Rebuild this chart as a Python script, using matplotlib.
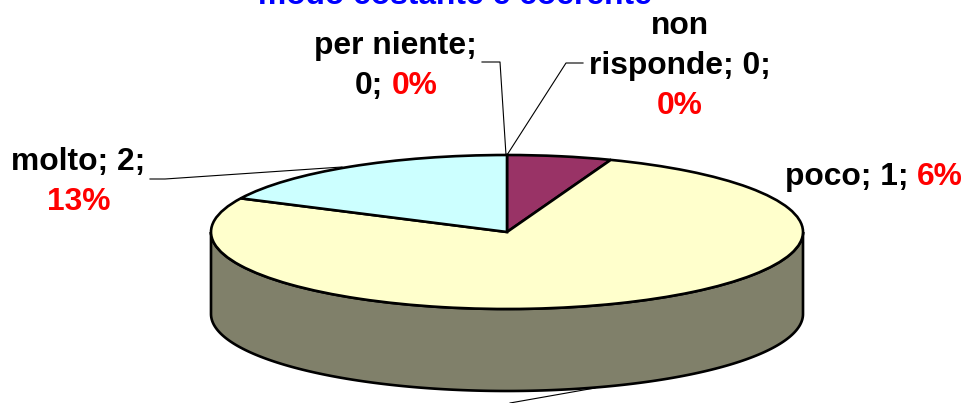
import numpy as np
import matplotlib
matplotlib.use("Agg")
import matplotlib.pyplot as plt
from matplotlib.lines import Line2D

plt.rcParams['font.family'] = ['Liberation Sans', 'DejaVu Sans']

title = "modo costante e coerente"
categories = ["per niente", "non risponde", "poco", "abbastanza", "molto"]
counts = [0, 0, 1, 13, 2]
percent_labels = ["0%", "0%", "6%", "81%", "13%"]
# Slice sweep (% of the ellipse) as it appears in the picture: the original's
# 3-D projection widens some slices relative to their labelled percentages.
drawn_sweep = [0, 0, 5.7, 76.5, 17.8]
slice_colors = ["#C0C0C0", "#FFFFFF", "#993366", "#FFFFCC", "#CCFFFF"]
side_color = "#80806A"

W, H = 967, 403
fig = plt.figure(figsize=(W / 100, H / 100), dpi=100)
cx, cy, rx, ry, depth = 507, 232, 296, 77, 82
ax = fig.add_axes([0, 0, 1, 1])


def P(x, y):
    return x / W, 1 - y / H


# Side wall (lower half of the ellipse extruded downward)
t = np.linspace(np.pi, 2 * np.pi, 200)
d = depth / ry
xs = np.r_[np.cos(t), np.cos(t[::-1])]
ys = np.r_[np.sin(t), np.sin(t[::-1]) - d]
ax.fill(xs, ys, facecolor=side_color, edgecolor="black", linewidth=1.9, zorder=1)

# Top face
kept = [i for i, v in enumerate(drawn_sweep) if v > 0]
wedges, _ = ax.pie(
    [drawn_sweep[i] for i in kept],
    colors=[slice_colors[i] for i in kept],
    startangle=90,
    counterclock=False,
    radius=1,
    wedgeprops=dict(edgecolor="black", linewidth=1.9, zorder=2),
)
ax.set_aspect("auto")
ax.set_xlim(-cx / rx, (W - cx) / rx)
ax.set_ylim(-(H - cy) / ry, cy / ry)
ax.axis("off")

# Leader lines
leaders = [
    ([482, 500, 506], [62, 62, 155]),
    ([583, 566, 507], [63, 63, 155]),
    ([150, 165, 342], [179, 179, 167]),
    ([595, 510], [388, 403]),
]
for lx, ly in leaders:
    pts = [P(a, b) for a, b in zip(lx, ly)]
    fig.add_artist(Line2D([p[0] for p in pts], [p[1] for p in pts],
                          color="black", linewidth=0.8, zorder=5))

FS = 22.9


def label(x, y, s, color="black", ha="center"):
    fx, fy = P(x, y)
    fig.text(fx, fy, s, color=color, fontsize=FS, fontweight="bold",
             ha=ha, va="baseline", zorder=6)


fig.text(*P(455, 4), title, color="#0000FF", fontsize=FS, fontweight="bold",
         ha="center", va="baseline")

label(395, 54, f"{categories[0]};")
label(355, 94, f"{counts[0]};", ha="left")
label(392, 94, percent_labels[0], color="#FF0000", ha="left")

label(680, 34, "non")
label(680, 74, f"risponde; {counts[1]};")
label(680, 114, percent_labels[1], color="#FF0000")

label(785, 185, f"{categories[2]}; {counts[2]};", ha="left")
label(917, 185, percent_labels[2], color="#FF0000", ha="left")

label(78, 170, f"{categories[4]}; {counts[4]};")
label(79, 210, percent_labels[4], color="#FF0000")

fig.savefig("out.png", dpi=100, facecolor="white")
